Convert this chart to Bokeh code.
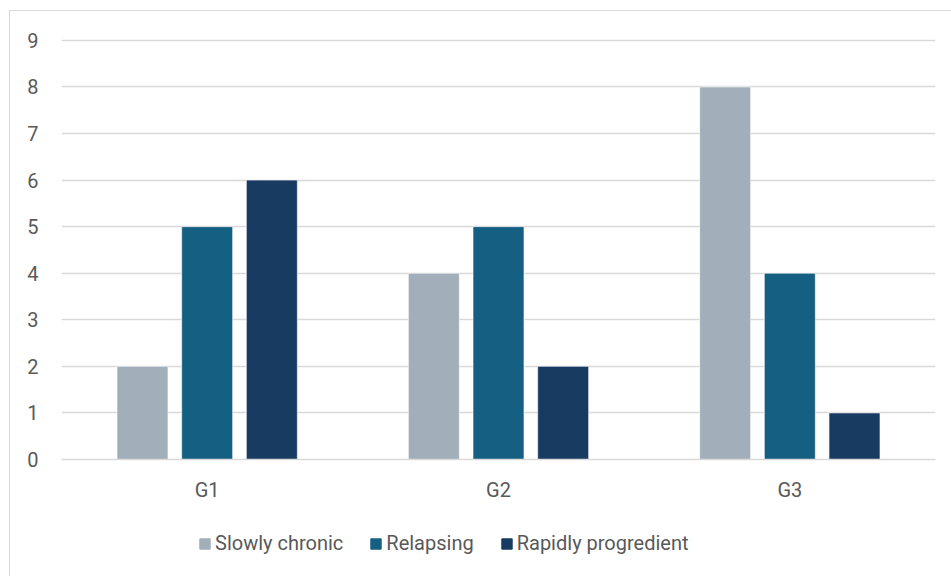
from bokeh.plotting import figure
from bokeh.models import ColumnDataSource, FactorRange, Legend, LegendItem, Column
from bokeh.transform import dodge
from bokeh.embed import file_html
from bokeh.resources import INLINE

groups = ["G1", "G2", "G3"]
series = ["Slowly chronic", "Relapsing", "Rapidly progredient"]
slowly_chronic = [2, 4, 8]
relapsing = [5, 5, 4]
rapidly_progredient = [6, 2, 1]
y_ticks = [0, 1, 2, 3, 4, 5, 6, 7, 8, 9]

colors = ["#A2AFBA", "#156082", "#183B61"]
offsets = [-0.222, 0.0, 0.222]
columns = ["slowly", "relapsing", "rapid"]

source = ColumnDataSource(dict(
    groups=groups,
    slowly=slowly_chronic,
    relapsing=relapsing,
    rapid=rapidly_progredient,
))

FONT = "Roboto"
TEXT = "#595959"
SIZE = "20px"

# --- bar chart ---
p = figure(
    width=941, height=504,
    x_range=FactorRange(factors=groups),
    y_range=(0, 9.04),
    output_backend="svg",
    toolbar_location=None,
    min_border_left=51, min_border_right=16,
    min_border_top=27, min_border_bottom=56,
)
p.outline_line_color = None
p.background_fill_color = "white"
p.border_fill_color = "white"

for col, color, off in zip(columns, colors, offsets):
    p.vbar(x=dodge("groups", off, range=p.x_range), top=col, width=0.175,
           source=source, fill_color=color, line_color="white", line_width=0.6)

p.xgrid.grid_line_color = None
p.ygrid.grid_line_color = "#D9D9D9"
p.ygrid.grid_line_width = 1.3
p.yaxis.ticker = y_ticks

p.yaxis.axis_line_color = None
p.yaxis.major_tick_line_color = None
p.yaxis.minor_tick_line_color = None
p.yaxis.major_tick_out = 0
p.yaxis.major_label_standoff = 23
p.yaxis.major_label_text_font = FONT
p.yaxis.major_label_text_font_size = SIZE
p.yaxis.major_label_text_color = TEXT

p.xaxis.axis_line_color = "#D9D9D9"
p.xaxis.axis_line_width = 1.3
p.xaxis.major_tick_line_color = None
p.xaxis.minor_tick_line_color = None
p.xaxis.major_tick_out = 0
p.xaxis.major_label_standoff = 18
p.xaxis.major_label_text_font = FONT
p.xaxis.major_label_text_font_size = SIZE
p.xaxis.major_label_text_color = TEXT

# --- legend strip under the chart ---
lg = figure(
    width=941, height=61,
    x_range=(0, 1), y_range=(0, 1),
    output_backend="svg",
    toolbar_location=None,
    x_axis_location=None, y_axis_location=None,
    min_border=0,
)
lg.outline_line_color = None
lg.grid.grid_line_color = None
lg.border_fill_color = "white"

# legend swatches: one off-range square per series, only its legend entry shows
swatches = [lg.rect(x=-1, y=-1, width=0.1, height=0.1, fill_color=c, line_color=c)
            for c in colors]

legend = Legend(
    items=[LegendItem(label=s, renderers=[r]) for s, r in zip(series, swatches)],
    orientation="horizontal",
    location=(137, 21),
    glyph_width=13, glyph_height=13,
    label_standoff=4, spacing=26,
    label_text_font=FONT, label_text_font_size=SIZE, label_text_color=TEXT,
    border_line_color=None, background_fill_alpha=0,
    padding=8, margin=0,
)
lg.add_layout(legend, "center")

# light frame around the chart area (left and top edges visible)
layout = Column(
    p, lg,
    margin=(10, 0, 0, 9),
    styles={"border-left": "1px solid #D9D9D9", "border-top": "1px solid #D9D9D9"},
)

open("out.html", "w").write(file_html(layout, INLINE))
